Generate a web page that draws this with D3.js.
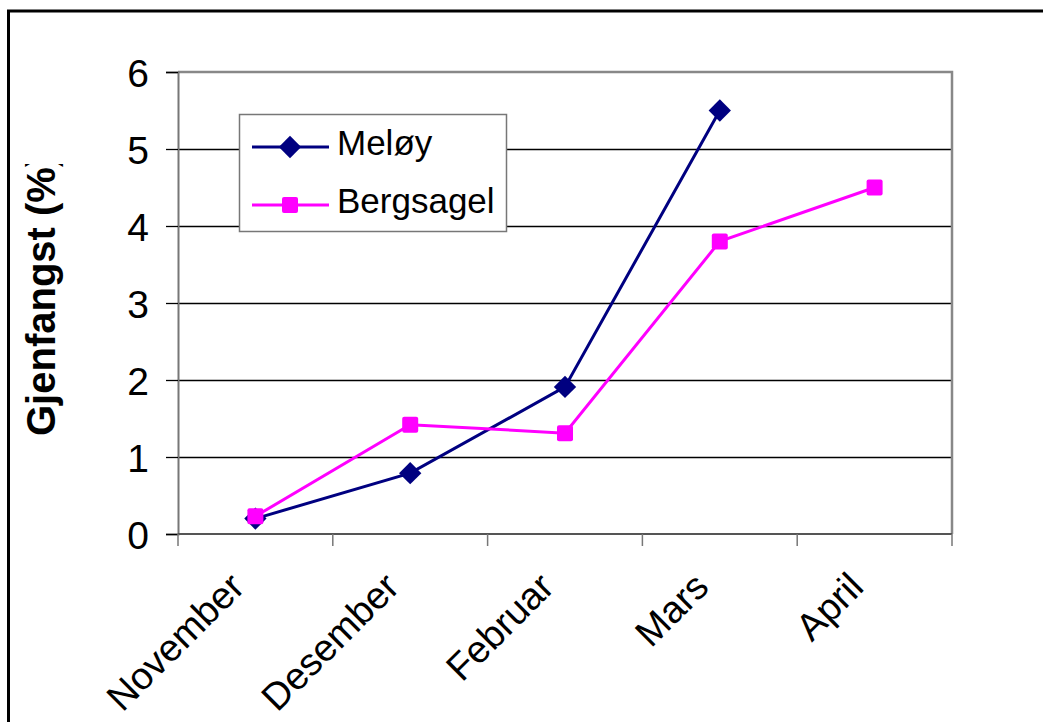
<!DOCTYPE html>
<html>
<head>
<meta charset="utf-8">
<script src="https://cdn.jsdelivr.net/npm/d3@7"></script>
<style>
  body { margin: 0; background: #fff; }
  text { font-family: "Liberation Sans", Arial, sans-serif; fill: #000; }
</style>
</head>
<body>
<div id="chart"></div>
<script>
// Data
const months = ['November', 'Desember', 'Februar', 'Mars', 'April'];
const meloy = [0.2, 0.79, 1.91, 5.5, null];
const bergsagel = [0.23, 1.42, 1.31, 3.8, 4.5];
const yTicks = [0, 1, 2, 3, 4, 5, 6];

const series = [
    {name: 'Meløy', values: meloy, color: '#000080', marker: 'diamond'},
    {name: 'Bergsagel', values: bergsagel, color: '#FF00FF', marker: 'square'}
];

const W = 1043, H = 722;
const plot = {left: 178, top: 72, right: 952, bottom: 534};

const svg = d3.select('#chart').append('svg')
    .attr('width', W)
    .attr('height', H);

// Outer chart border (right and bottom edges are outside the frame)
svg.append('rect')
    .attr('x', 8.5).attr('y', 11)
    .attr('width', 1100).attr('height', 800)
    .attr('fill', 'none')
    .attr('stroke', '#000')
    .attr('stroke-width', 3);

// Scales
const x = d3.scaleBand()
    .domain(months)
    .range([plot.left, plot.right])
    .padding(0);

const y = d3.scaleLinear()
    .domain([0, 6])
    .range([plot.bottom, plot.top]);

const cx = d => x(d) + x.bandwidth() / 2;

// Gridlines
svg.append('g')
    .selectAll('line')
    .data(yTicks.filter(t => t > 0 && t < 6))
    .enter()
    .append('line')
    .attr('x1', plot.left).attr('x2', plot.right)
    .attr('y1', d => Math.round(y(d)) + 0.5).attr('y2', d => Math.round(y(d)) + 0.5)
    .attr('stroke', '#000')
    .attr('stroke-width', 1.3);

// Plot border top and right
svg.append('path')
    .attr('d', `M${plot.left},${plot.top}H${plot.right}V${plot.bottom}`)
    .attr('fill', 'none')
    .attr('stroke', '#888')
    .attr('stroke-width', 2.5);

// Y axis
const yAxis = svg.append('g')
    .attr('transform', `translate(${plot.left},0)`)
    .call(d3.axisLeft(y).tickValues(yTicks).tickSize(12).tickPadding(17).tickFormat(d3.format('d')));
yAxis.select('.domain').attr('stroke', '#777').attr('stroke-width', 2);
yAxis.selectAll('.tick line').attr('stroke', '#000').attr('stroke-width', 1.3);
yAxis.selectAll('.tick text')
    .attr('font-size', 39)
    .attr('dy', '0.36em')
    .style('font-family', '"Liberation Sans", Arial, sans-serif');

// X axis with ticks at category boundaries
const xAxis = svg.append('g')
    .attr('transform', `translate(0,${plot.bottom})`);
xAxis.append('line')
    .attr('x1', plot.left).attr('x2', plot.right)
    .attr('stroke', '#555').attr('stroke-width', 2);
const bounds = months.map(m => x(m)).concat([x(months[months.length - 1]) + x.bandwidth()]);
xAxis.selectAll('.xtick')
    .data(bounds)
    .enter()
    .append('line')
    .attr('class', 'xtick')
    .attr('x1', d => d).attr('x2', d => d)
    .attr('y1', 0).attr('y2', 12)
    .attr('stroke', '#777').attr('stroke-width', 1.5);

xAxis.selectAll('.xlabel')
    .data(months)
    .enter()
    .append('text')
    .attr('class', 'xlabel')
    .attr('text-anchor', 'end')
    .attr('font-size', 38)
    .attr('transform', d => `translate(${cx(d) - 9},${589 - plot.bottom}) rotate(-45)`)
    .text(d => d);

// Y axis title, clipped at the top like the original
svg.append('clipPath')
    .attr('id', 'title-clip')
    .append('rect')
    .attr('x', 0).attr('y', 164)
    .attr('width', 120).attr('height', 400);

svg.append('g')
    .attr('clip-path', 'url(#title-clip)')
    .append('text')
    .attr('transform', 'translate(55,436) rotate(-90)')
    .attr('text-anchor', 'start')
    .attr('font-size', 40)
    .attr('font-weight', 'bold')
    .text('Gjenfangst (%)');

// Marker drawing
function drawMarker(g, type, px, py, color, size) {
    if (type === 'diamond') {
        g.append('path')
            .attr('d', d3.symbol().type(d3.symbolDiamond2).size(size * size * 1.1)())
            .attr('transform', `translate(${px},${py})`)
            .attr('fill', color);
    } else {
        g.append('rect')
            .attr('x', px - size / 2).attr('y', py - size / 2)
            .attr('width', size).attr('height', size)
            .attr('rx', 2)
            .attr('fill', color);
    }
}

// Lines and markers
const line = d3.line()
    .defined(d => d.v != null)
    .x(d => cx(d.m))
    .y(d => y(d.v));

series.forEach(s => {
    const pts = months.map((m, i) => ({m, v: s.values[i]}));
    const g = svg.append('g');
    g.append('path')
        .datum(pts)
        .attr('d', line)
        .attr('fill', 'none')
        .attr('stroke', s.color)
        .attr('stroke-width', 3);
    pts.filter(d => d.v != null).forEach(d => {
        drawMarker(g, s.marker, cx(d.m), y(d.v), s.color, s.marker === 'diamond' ? 17 : 16);
    });
});

// Legend
const legend = svg.append('g');
legend.append('rect')
    .attr('x', 239.5).attr('y', 114.5)
    .attr('width', 267).attr('height', 117)
    .attr('fill', '#fff')
    .attr('stroke', '#777')
    .attr('stroke-width', 1.5);

const legendY = [147, 205];
series.forEach((s, i) => {
    const ly = legendY[i];
    legend.append('line')
        .attr('x1', 252).attr('x2', 329)
        .attr('y1', ly).attr('y2', ly)
        .attr('stroke', s.color)
        .attr('stroke-width', 3);
    drawMarker(legend, s.marker, 290, ly, s.color, s.marker === 'diamond' ? 17 : 16);
    legend.append('text')
        .attr('x', 337)
        .attr('y', ly + 8)
        .attr('font-size', 35)
        .text(s.name);
});
</script>
</body>
</html>
